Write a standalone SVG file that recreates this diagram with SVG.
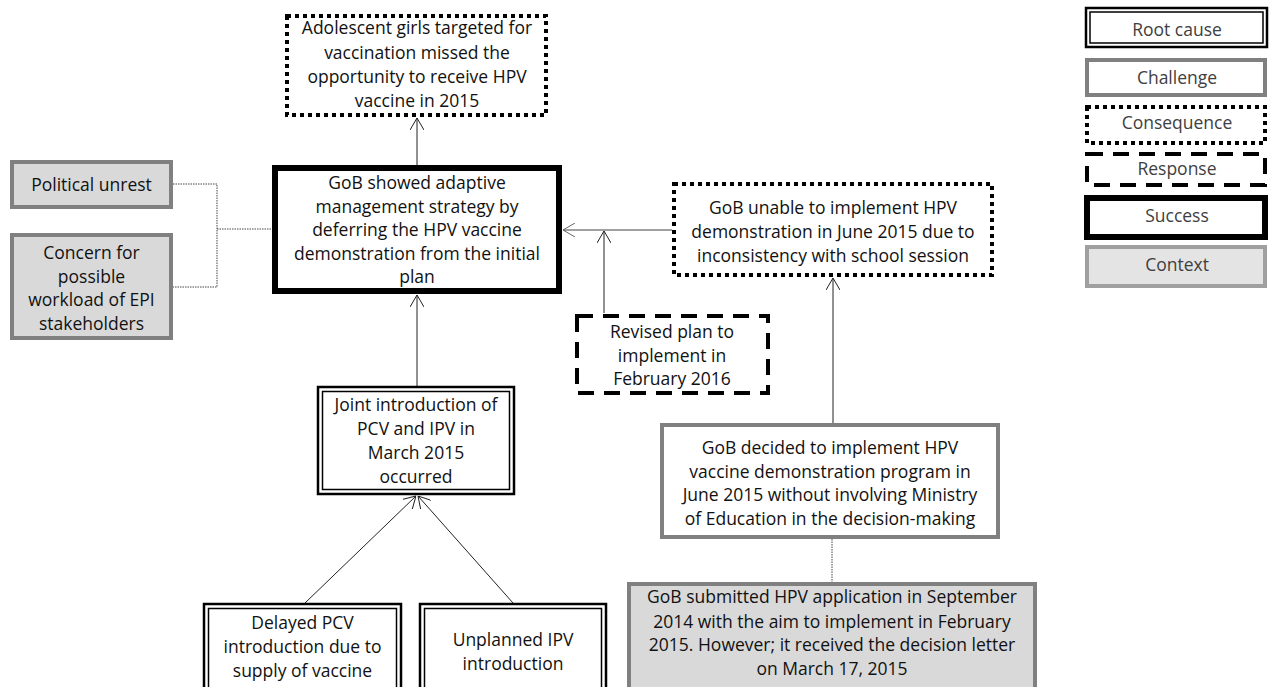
<svg xmlns="http://www.w3.org/2000/svg" width="1270" height="687" viewBox="0 0 1270 687">
<defs>
<style>
text{font-family:"Open Sans","Liberation Sans",sans-serif;font-size:17.5px;fill:#111;text-anchor:middle}
.lg{font-size:17.5px;fill:#404040}
.cons{fill:#fff;stroke:#000;stroke-width:4;stroke-dasharray:4 4}
.resp{fill:#fff;stroke:#000;stroke-width:4;stroke-dasharray:16 10}
.succ{fill:#fff;stroke:#000;stroke-width:6}
.chal{fill:#fff;stroke:#808080;stroke-width:4}
.ctx{fill:#d9d9d9;stroke:#808080;stroke-width:4}
.rootO{fill:#fff;stroke:#000;stroke-width:2.5}
.rootI{fill:none;stroke:#000;stroke-width:1.5}
.arr{fill:none;stroke:#222;stroke-width:1;marker-end:url(#ah)}
.arrg{fill:none;stroke:#808080;stroke-width:1.5;marker-end:url(#ahg)}
.dot{fill:none;stroke:#444;stroke-width:1;stroke-dasharray:1.5 1}
</style>
<marker id="ah" viewBox="0 0 12 14" refX="12" refY="7" markerWidth="12" markerHeight="14" markerUnits="userSpaceOnUse" orient="auto">
<path d="M0,0 L12,7 L0,14" fill="none" stroke="#222" stroke-width="1"/>
</marker>
<marker id="ahg" viewBox="0 0 12 14" refX="12" refY="7" markerWidth="12" markerHeight="14" markerUnits="userSpaceOnUse" orient="auto">
<path d="M0,0 L12,7 L0,14" fill="none" stroke="#666" stroke-width="1"/>
</marker>
</defs>

<g id="connectors">
<line class="arr" x1="417" y1="165" x2="417" y2="118"/>
<line class="arr" x1="417" y1="386" x2="417" y2="295"/>
<line class="arr" x1="305" y1="603" x2="416" y2="496"/>
<line class="arr" x1="513" y1="603" x2="418" y2="496"/>
<line class="arrg" x1="672" y1="230" x2="563" y2="230"/>
<line class="arr" x1="604" y1="313" x2="604" y2="231"/>
<line class="arr" x1="833" y1="423" x2="833" y2="278"/>
<polyline class="dot" points="173,184 217,184 217,287 173,287"/>
<line class="dot" x1="217" y1="229" x2="272" y2="229"/>
<line class="dot" x1="832" y1="539" x2="832" y2="582"/>
</g>

<g id="n-consequence-top">
<rect class="cons" x="287" y="16" width="259" height="99"/>
<text x="417" y="34">Adolescent girls targeted for</text>
<text x="417" y="58.5">vaccination missed the</text>
<text x="417" y="83">opportunity to receive HPV</text>
<text x="417" y="107">vaccine in 2015</text>
</g>

<g id="n-success">
<rect class="succ" x="275" y="168" width="284" height="123"/>
<text x="417" y="189">GoB showed adaptive</text>
<text x="417" y="212.5">management strategy by</text>
<text x="417" y="236">deferring the HPV vaccine</text>
<text x="417" y="259.5">demonstration from the initial</text>
<text x="417" y="283">plan</text>
</g>

<g id="n-political">
<rect class="ctx" x="12" y="162" width="159" height="45"/>
<text x="91.5" y="191">Political unrest</text>
</g>

<g id="n-concern">
<rect class="ctx" x="12" y="235" width="159" height="103"/>
<text x="91.5" y="259">Concern for</text>
<text x="91.5" y="282.5">possible</text>
<text x="91.5" y="306">workload of EPI</text>
<text x="91.5" y="329.5">stakeholders</text>
</g>

<g id="n-consequence-right">
<rect class="cons" x="674" y="184" width="318" height="91"/>
<text x="833" y="214">GoB unable to implement HPV</text>
<text x="833" y="238">demonstration in June 2015  due to</text>
<text x="833" y="261.5">inconsistency with school session</text>
</g>

<g id="n-response">
<rect class="resp" x="577" y="316" width="191" height="77"/>
<text x="672" y="338">Revised plan to</text>
<text x="672" y="361.5">implement in</text>
<text x="672" y="385">February 2016</text>
</g>

<g id="n-joint">
<rect class="rootO" x="318" y="387" width="196" height="107"/>
<rect class="rootI" x="322.5" y="391.5" width="187" height="98"/>
<text x="416" y="411">Joint introduction of</text>
<text x="416" y="435">PCV and IPV in</text>
<text x="416" y="459">March 2015</text>
<text x="416" y="483">occurred</text>
</g>

<g id="n-decided">
<rect class="chal" x="662" y="425" width="336" height="112"/>
<text x="830" y="454">GoB decided to implement HPV</text>
<text x="830" y="477.5">vaccine demonstration program in</text>
<text x="830" y="501">June 2015  without involving Ministry</text>
<text x="830" y="524.5">of Education in the decision-making</text>
</g>

<g id="n-submitted">
<rect class="ctx" x="629" y="584" width="406" height="110"/>
<text x="832" y="603">GoB submitted HPV application in September</text>
<text x="832" y="627.5">2014  with the aim to implement in February</text>
<text x="832" y="651">2015. However; it received the decision letter</text>
<text x="832" y="674.5">on March 17, 2015</text>
</g>

<g id="n-delayed">
<rect class="rootO" x="204" y="604" width="197" height="95"/>
<rect class="rootI" x="208.5" y="608.5" width="188" height="86"/>
<text x="302.5" y="629">Delayed PCV</text>
<text x="302.5" y="653">introduction due to</text>
<text x="302.5" y="677">supply  of vaccine</text>
</g>

<g id="n-unplanned">
<rect class="rootO" x="420" y="604" width="186" height="95"/>
<rect class="rootI" x="424.5" y="608.5" width="177" height="86"/>
<text x="513" y="646">Unplanned IPV</text>
<text x="513" y="670">introduction</text>
</g>

<g id="legend">
<g id="lg-root">
<rect class="rootO" x="1086" y="8" width="181" height="39"/>
<rect class="rootI" x="1090" y="12" width="173" height="31"/>
<text class="lg" x="1177" y="36">Root cause</text>
</g>
<g id="lg-challenge">
<rect class="chal" x="1087" y="60" width="178" height="35"/>
<text class="lg" x="1177" y="84">Challenge</text>
</g>
<g id="lg-consequence">
<rect class="cons" x="1087" y="107" width="178" height="36"/>
<text class="lg" x="1177" y="129">Consequence</text>
</g>
<g id="lg-response">
<rect class="resp" x="1087" y="154" width="178" height="31"/>
<text class="lg" x="1177" y="175">Response</text>
</g>
<g id="lg-success">
<rect class="succ" x="1087" y="198" width="178" height="39"/>
<text class="lg" x="1177" y="222">Success</text>
</g>
<g id="lg-context">
<rect class="ctx" x="1087" y="247" width="178" height="39" style="fill:#e4e4e4;stroke:#a0a0a0"/>
<text class="lg" x="1177" y="271">Context</text>
</g>
</g>
</svg>
